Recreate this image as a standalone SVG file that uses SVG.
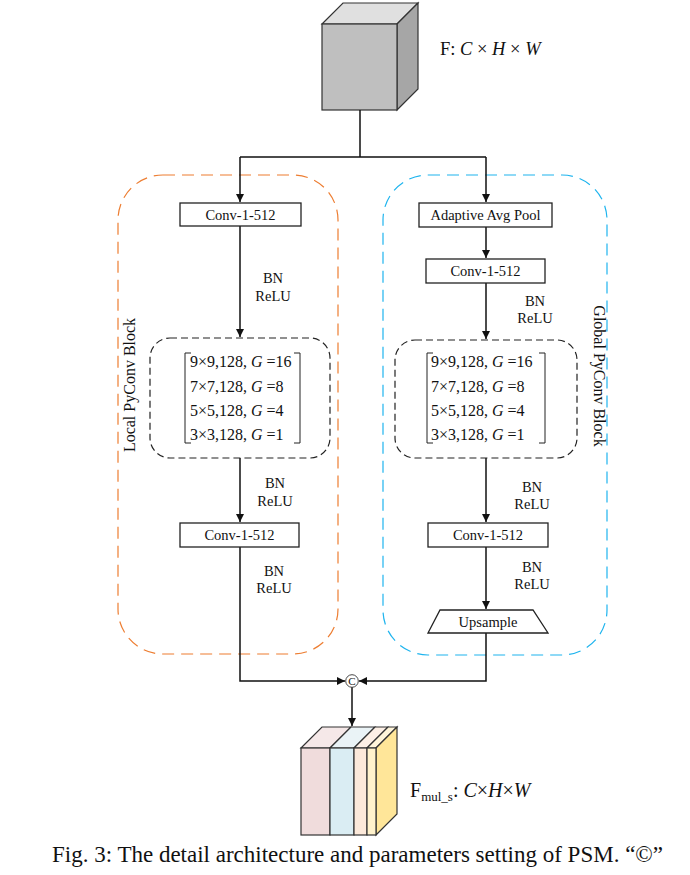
<svg xmlns="http://www.w3.org/2000/svg" width="690" height="875" viewBox="0 0 690 875">
<defs>
<style>
text{font-family:"Liberation Serif","Times New Roman",serif;fill:#111}
.lbl{font-size:14.5px;text-anchor:middle}
.box{fill:#fff;stroke:#222;stroke-width:1.3}
.ln{fill:none;stroke:#111;stroke-width:1.5}
.idash{fill:none;stroke:#222;stroke-width:1.2;stroke-dasharray:7 4}
.mx{font-size:16px}
.br{fill:none;stroke:#222;stroke-width:1}
.cube{stroke:#333;stroke-width:1.2}
.i{font-style:italic}
</style>
<marker id="ah" viewBox="0 0 10 10" refX="10" refY="5" markerWidth="8" markerHeight="8" markerUnits="userSpaceOnUse" orient="auto">
<path d="M0,0 L10,5 L0,10 z" fill="#111"/>
</marker>
</defs>
<rect width="690" height="875" fill="#fff"/>

<!-- group frames -->
<g id="local-block">
<rect x="118" y="175" width="220" height="479" rx="45" fill="none" stroke="#ED7D31" stroke-width="1.2" stroke-dasharray="12 7"/>
<text transform="translate(135,385) rotate(-90)" font-size="16" text-anchor="middle">Local PyConv Block</text>
</g>
<g id="global-block">
<rect x="383" y="175" width="224" height="480" rx="45" fill="none" stroke="#1EB4EE" stroke-width="1.2" stroke-dasharray="12 7"/>
<text transform="translate(594,376) rotate(90)" font-size="16" text-anchor="middle">Global PyConv Block</text>
</g>

<!-- input cube -->
<g id="input-F">
<polygon class="cube" points="322,24 343,3 418,3 397,24" fill="#E0E0E0"/>
<polygon class="cube" points="397,24 418,3 418,89 397,110" fill="#A6A6A6"/>
<rect class="cube" x="322" y="24" width="75" height="86" fill="#BFBFBF"/>
<text x="440" y="55" font-size="18.5">F: <tspan class="i">C</tspan> × <tspan class="i">H</tspan> × <tspan class="i">W</tspan></text>
</g>

<!-- connectors -->
<g id="connectors">
<path class="ln" d="M360,110 V157 M240,157 H486"/>
<path class="ln" d="M240,157 V202" marker-end="url(#ah)"/>
<path class="ln" d="M486,157 V202" marker-end="url(#ah)"/>
<path class="ln" d="M240,226 V337" marker-end="url(#ah)"/>
<path class="ln" d="M240,458 V522" marker-end="url(#ah)"/>
<path class="ln" d="M240,547 V681 H345" marker-end="url(#ah)"/>
<path class="ln" d="M486,227 V258" marker-end="url(#ah)"/>
<path class="ln" d="M486,283 V339" marker-end="url(#ah)"/>
<path class="ln" d="M486,458 V522" marker-end="url(#ah)"/>
<path class="ln" d="M486,547 V609" marker-end="url(#ah)"/>
<path class="ln" d="M486,633 V681 H359" marker-end="url(#ah)"/>
<path class="ln" d="M352,687 V726" marker-end="url(#ah)"/>
<text class="lbl" x="273" y="283">BN</text>
<text class="lbl" x="273" y="301">ReLU</text>
<text class="lbl" x="275" y="488">BN</text>
<text class="lbl" x="275" y="506">ReLU</text>
<text class="lbl" x="274" y="576">BN</text>
<text class="lbl" x="274" y="593">ReLU</text>
<text class="lbl" x="535" y="306">BN</text>
<text class="lbl" x="535" y="323">ReLU</text>
<text class="lbl" x="532" y="492">BN</text>
<text class="lbl" x="532" y="509">ReLU</text>
<text class="lbl" x="532" y="572">BN</text>
<text class="lbl" x="532" y="589">ReLU</text>
</g>

<!-- local branch nodes -->
<g id="local-conv1">
<rect class="box" x="180" y="203" width="121" height="23"/>
<text class="lbl" x="240.5" y="219.5">Conv-1-512</text>
</g>
<g id="local-pyconv">
<rect class="idash" x="150" y="338" width="180" height="120" rx="20"/>
<path class="br" d="M191,353 H185 V443 H191 M294,353 H300 V443 H294"/>
<text class="mx" x="190" y="367">9×9,128, <tspan class="i">G</tspan> =16</text>
<text class="mx" x="190" y="392">7×7,128, <tspan class="i">G</tspan> =8</text>
<text class="mx" x="190" y="416">5×5,128, <tspan class="i">G</tspan> =4</text>
<text class="mx" x="190" y="440">3×3,128, <tspan class="i">G</tspan> =1</text>
</g>
<g id="local-conv2">
<rect class="box" x="180" y="523" width="119" height="24"/>
<text class="lbl" x="239.5" y="540">Conv-1-512</text>
</g>

<!-- global branch nodes -->
<g id="global-pool">
<rect class="box" x="419" y="203" width="133" height="24"/>
<text class="lbl" x="485.5" y="220">Adaptive Avg Pool</text>
</g>
<g id="global-conv1">
<rect class="box" x="426" y="259" width="119" height="24"/>
<text class="lbl" x="485.5" y="276">Conv-1-512</text>
</g>
<g id="global-pyconv">
<rect class="idash" x="395" y="340" width="182" height="118" rx="20"/>
<path class="br" d="M433,353 H427 V443 H433 M539,353 H545 V443 H539"/>
<text class="mx" x="431" y="367">9×9,128, <tspan class="i">G</tspan> =16</text>
<text class="mx" x="431" y="392">7×7,128, <tspan class="i">G</tspan> =8</text>
<text class="mx" x="431" y="416">5×5,128, <tspan class="i">G</tspan> =4</text>
<text class="mx" x="431" y="440">3×3,128, <tspan class="i">G</tspan> =1</text>
</g>
<g id="global-conv2">
<rect class="box" x="428" y="523" width="120" height="24"/>
<text class="lbl" x="488" y="540">Conv-1-512</text>
</g>
<g id="global-upsample">
<polygon class="box" points="440,610 533,610 548,633 428,633"/>
<text class="lbl" x="488" y="626.5">Upsample</text>
</g>

<!-- concat -->
<g id="concat">
<circle cx="352" cy="681" r="6.3" fill="#fff" stroke="#333" stroke-width="0.9"/>
<text x="352" y="685" font-size="11" text-anchor="middle">C</text>
</g>

<!-- output cube -->
<g id="output-F">
<polygon class="cube" points="301,748 322,727 351,727 330,748" fill="#F5E8E8"/>
<polygon class="cube" points="330,748 351,727 375,727 354,748" fill="#EAF3F6"/>
<polygon class="cube" points="354,748 375,727 388,727 367,748" fill="#FDF0E6"/>
<polygon class="cube" points="367,748 388,727 397,727 376,748" fill="#FFF5DA"/>
<polygon class="cube" points="376,748 397,727 397,814 376,835" fill="#FFE699"/>
<rect class="cube" x="301" y="748" width="29" height="87" fill="#F0DCDC"/>
<rect class="cube" x="330" y="748" width="24" height="87" fill="#DAEDF3"/>
<rect class="cube" x="354" y="748" width="13" height="87" fill="#FCE9DA"/>
<rect class="cube" x="367" y="748" width="9" height="87" fill="#FFF2CC"/>
<text x="410" y="797" font-size="20">F<tspan font-size="13" dy="4">mul_s</tspan><tspan dy="-4">: </tspan><tspan class="i">C</tspan>×<tspan class="i">H</tspan>×<tspan class="i">W</tspan></text>
</g>

<text x="52" y="862" font-size="23">Fig. 3: The detail architecture and parameters setting of PSM. “©”</text>
</svg>
